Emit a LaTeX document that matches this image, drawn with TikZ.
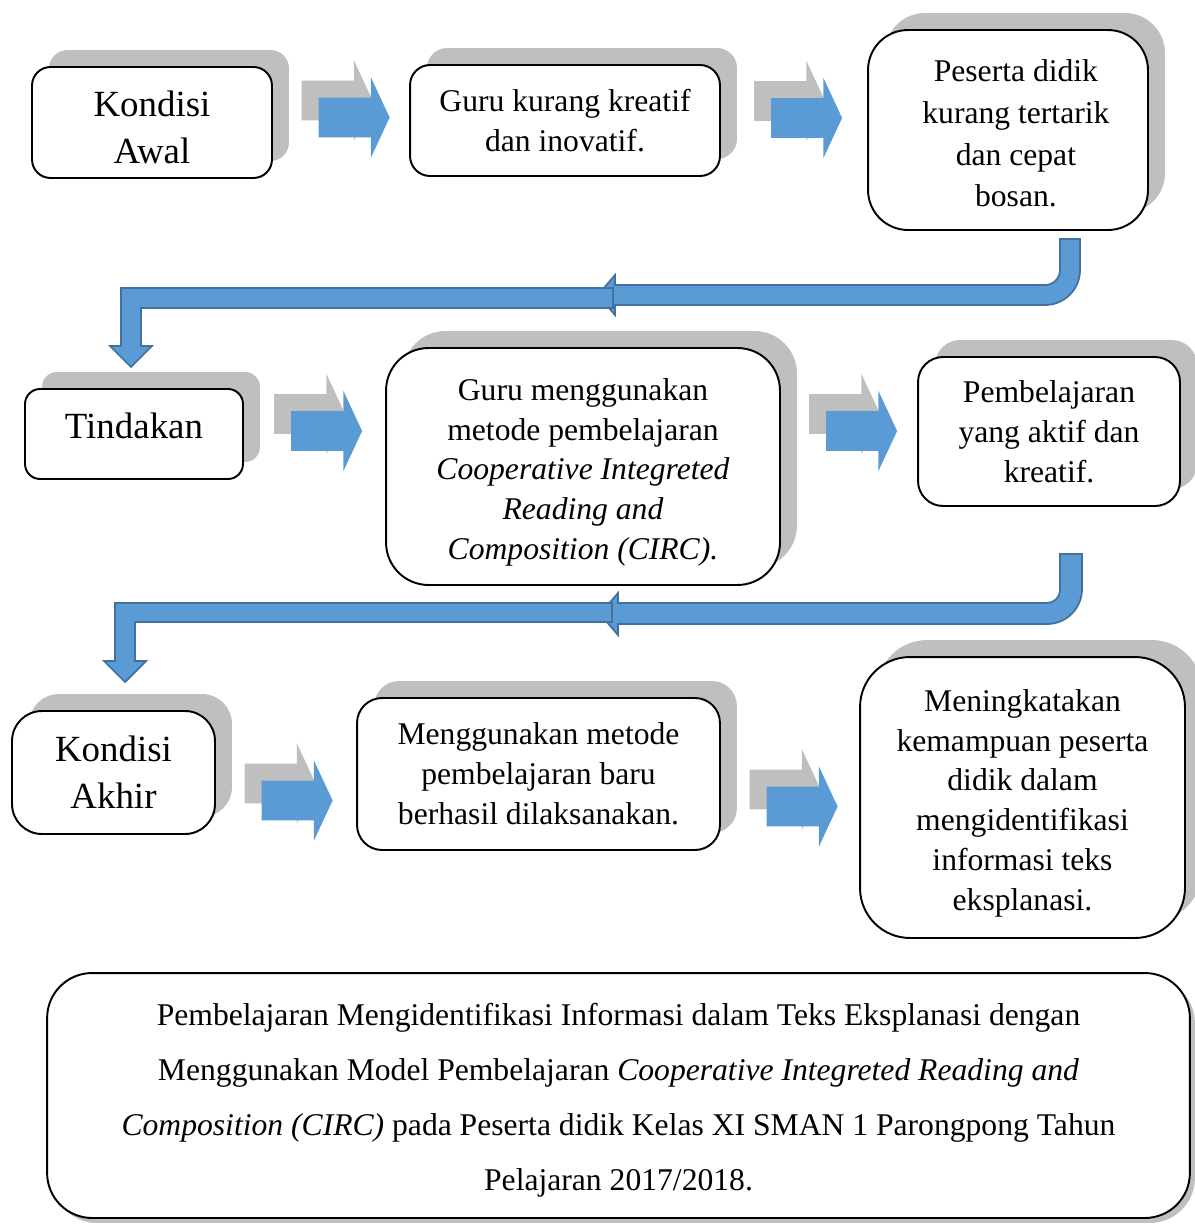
\documentclass[tikz,border=0pt]{standalone}
\usepackage{fontspec}
\setmainfont{Liberation Serif}
\usetikzlibrary{shapes.arrows,shadows}
\definecolor{arrowblue}{HTML}{5B9BD5}
\definecolor{arrowline}{HTML}{41719C}
\definecolor{shadowgray}{HTML}{BFBFBF}

\begin{document}
\begin{tikzpicture}[x=0.02cm,y=-0.02cm,
  box/.style={draw,line width=1.1pt,fill=white,rounded corners=#1,align=center,
    font=\fontsize{18}{22.7}\selectfont,inner sep=0pt,
    general shadow={fill=shadowgray,shadow xshift=0.34cm,shadow yshift=0.34cm}},
  box/.default=0.4cm,
  bigtxt/.style={font=\fontsize{21}{26.6}\selectfont},
  notebox/.style={draw,line width=1.1pt,fill=white,rounded corners=0.9cm,align=center,
    font=\fontsize{18}{31.2}\selectfont,inner sep=0pt,
    general shadow={fill=shadowgray,shadow xshift=0.1cm,shadow yshift=-0.1cm}},
  rarrow/.style={single arrow,fill=arrowblue,minimum height=1.42cm,
    inner xsep=0pt,inner ysep=0.39cm,single arrow head extend=0.41cm,
    single arrow tip angle=130,
    general shadow={fill=shadowgray,shadow xshift=-0.34cm,shadow yshift=0.34cm}},
  bent/.style={fill=arrowblue,draw=arrowline,line width=1pt}]
\useasboundingbox (0,0) rectangle (1194,1227);

% baris pertama
\node[box=0.37cm,bigtxt,minimum width=4.8cm,minimum height=2.22cm] (awal) at (152,122.5) {\rule{0pt}{20pt}Kondisi\\Awal};
\node[box=0.4cm,minimum width=6.2cm,minimum height=2.22cm] (guru) at (565,120.5) {Guru kurang kreatif\\dan inovatif.};
\node[box=0.8cm,font=\fontsize{18}{23.8}\selectfont,minimum width=5.6cm,minimum height=4cm] (bosan) at (1008,130)
  {\rule{0pt}{16.3pt}\hspace*{9pt}Peserta didik\\\hspace*{9pt}kurang tertarik\\\hspace*{9pt}dan cepat\\\hspace*{9pt}bosan.};
\node[rarrow] (a1) at (349.5,117.5) {};
\node[rarrow] (a2) at (802,118) {};

% panah belok pertama
\draw[bent] (1060,239) -- (1080,239) -- (1080,270) arc[start angle=0,end angle=-90,radius=0.7cm]
  -- (615,305) -- (615,315) -- (598,295) -- (615,275) -- (615,285) -- (1045,285)
  arc[start angle=-90,end angle=0,radius=0.3cm] -- cycle;
\draw[bent] (613,288) -- (121,288) -- (121,346) -- (110,346) -- (131,367) -- (152,346)
  -- (141,346) -- (141,308) -- (613,308) -- cycle;

% baris kedua
\node[box=0.3cm,bigtxt,minimum width=4.36cm,minimum height=1.8cm] (tindakan) at (134,434) {Tindakan\rule[-9pt]{0pt}{9pt}};
\node[box=0.85cm,minimum width=7.88cm,minimum height=4.74cm] (circ) at (583,466.5)
  {\rule{0pt}{19.1pt}Guru menggunakan\\metode pembelajaran\\\textit{Cooperative Integreted}\\\textit{Reading and}\\\textit{Composition (CIRC).}};
\node[box=0.5cm,minimum width=5.24cm,minimum height=2.98cm] (aktif) at (1049,431.5) {Pembelajaran\\yang aktif dan\\kreatif.};
\node[rarrow] (a3) at (322,431) {};
\node[rarrow] (a4) at (857,431) {};

% panah belok kedua
\draw[bent] (1060,554) -- (1082,554) -- (1082,589) arc[start angle=0,end angle=-90,radius=0.7cm]
  -- (618,624) -- (618,635) -- (600,614) -- (618,593) -- (618,603) -- (1047,603)
  arc[start angle=-90,end angle=0,radius=0.26cm] -- cycle;
\draw[bent] (612,603) -- (115,603) -- (115,661) -- (104,661) -- (125,682) -- (146,661)
  -- (135,661) -- (135,622) -- (612,622) -- cycle;

% baris ketiga
\node[box=0.6cm,bigtxt,minimum width=4.06cm,minimum height=2.46cm] (akhir) at (113.5,772.5) {Kondisi\\Akhir};
\node[box=0.5cm,minimum width=7.26cm,minimum height=3.04cm] (berhasil) at (538.5,774)
  {Menggunakan metode\\pembelajaran baru\\berhasil dilaksanakan.};
\node[box=1cm,minimum width=6.5cm,minimum height=5.62cm] (hasil) at (1022.5,797.5)
  {\rule{0pt}{19.1pt}Meningkatakan\\kemampuan peserta\\didik dalam\\mengidentifikasi\\informasi teks\\eksplanasi.};
\node[rarrow] (a5) at (292.5,800.5) {};
\node[rarrow] (a6) at (797.5,806.5) {};

% judul
\node[notebox,minimum width=22.86cm,minimum height=4.9cm] (judul) at (618.5,1095.5)
  {\rule{0pt}{18pt}Pembelajaran Mengidentifikasi Informasi dalam Teks Eksplanasi dengan\\
   Menggunakan Model Pembelajaran \textit{Cooperative Integreted Reading and}\\
   \textit{Composition (CIRC)} pada Peserta didik Kelas XI SMAN 1 Parongpong Tahun\\
   Pelajaran 2017/2018.};
\end{tikzpicture}
\end{document}
